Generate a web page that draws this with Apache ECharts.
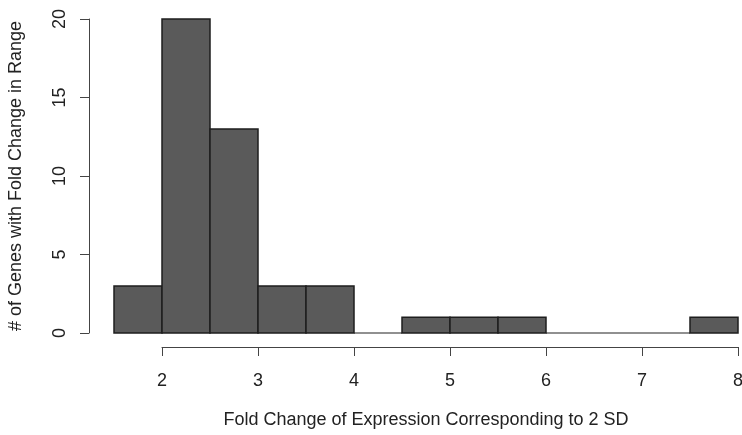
<!DOCTYPE html>
<html>
<head>
<meta charset="utf-8">
<script src="https://cdn.jsdelivr.net/npm/echarts@6/dist/echarts.min.js"></script>
<style>
  html, body { margin: 0; padding: 0; background: #fff; }
  #chart { width: 742px; height: 435px; }
</style>
</head>
<body>
<div id="chart"></div>
<script>
// histogram bins (fold change) and counts
const binStarts = [1.5, 2, 2.5, 3, 3.5, 4, 4.5, 5, 5.5, 6, 6.5, 7, 7.5];
const binWidth = 0.5;
const counts = [3, 20, 13, 3, 3, 0, 1, 1, 1, 0, 0, 0, 1];
const xTicks = [2, 3, 4, 5, 6, 7, 8];
const yTicks = [0, 5, 10, 15, 20];

const FONT = 'Liberation Sans, Arial, Helvetica, sans-serif';
const chart = echarts.init(document.getElementById('chart'));

const data = binStarts.map((s, i) => [s, s + binWidth, counts[i]]);

chart.setOption({
  animation: false,
  grid: [
    // plotting region, 1.5..8 by 0..20
    { left: 114, right: 4, top: 19, bottom: 102, outerBoundsMode: 'none', containLabel: false },
    // R style detached x axis, drawn 2..8 below the bars
    { left: 162, right: 4, top: 19, bottom: 88, outerBoundsMode: 'none', containLabel: false }
  ],
  xAxis: [
    {
      gridIndex: 0, type: 'value',
      min: binStarts[0], max: binStarts[binStarts.length - 1] + binWidth,
      axisLine: { show: false }, axisTick: { show: false },
      axisLabel: { show: false }, splitLine: { show: false },
      name: 'Fold Change of Expression Corresponding to 2 SD',
      nameLocation: 'middle', nameGap: 78, nameMoveOverlap: false,
      nameTextStyle: { fontFamily: FONT, fontSize: 18, color: '#222' }
    },
    {
      gridIndex: 1, type: 'value',
      min: xTicks[0], max: xTicks[xTicks.length - 1], interval: 1,
      axisLine: { show: true, onZero: false, lineStyle: { color: '#444', width: 1 } },
      axisTick: { show: true, length: 9, lineStyle: { color: '#444' } },
      axisLabel: { fontFamily: FONT, fontSize: 18, color: '#222', margin: 25 },
      splitLine: { show: false }
    }
  ],
  yAxis: [
    {
      gridIndex: 0, type: 'value',
      min: yTicks[0], max: yTicks[yTicks.length - 1], interval: 5,
      offset: 25,
      axisLine: { show: true, onZero: false, lineStyle: { color: '#444', width: 1 } },
      axisTick: { show: true, length: 9, lineStyle: { color: '#444' } },
      axisLabel: { fontFamily: FONT, fontSize: 18, color: '#222', rotate: 90, margin: 20 },
      splitLine: { show: false },
      name: '# of Genes with Fold Change in Range',
      nameLocation: 'middle', nameGap: 64, nameMoveOverlap: false,
      nameTextStyle: { fontFamily: FONT, fontSize: 18, color: '#222' }
    },
    {
      gridIndex: 1, type: 'value', min: 0, max: 20, show: false
    }
  ],
  series: [{
    type: 'custom',
    xAxisIndex: 0, yAxisIndex: 0,
    data: data,
    renderItem: function (params, api) {
      const p0 = api.coord([api.value(0), api.value(2)]);
      const p1 = api.coord([api.value(1), 0]);
      if (api.value(2) === 0) {
        // empty bin: R still draws a flat outline on the baseline
        return {
          type: 'line',
          shape: { x1: p0[0], y1: p1[1], x2: p1[0], y2: p1[1] },
          style: { stroke: '#222', lineWidth: 1.2 }
        };
      }
      return {
        type: 'rect',
        shape: { x: p0[0], y: p0[1], width: p1[0] - p0[0], height: p1[1] - p0[1] },
        style: { fill: '#5a5a5a', stroke: '#1e1e1e', lineWidth: 1.5 }
      };
    }
  }]
});
</script>
</body>
</html>
